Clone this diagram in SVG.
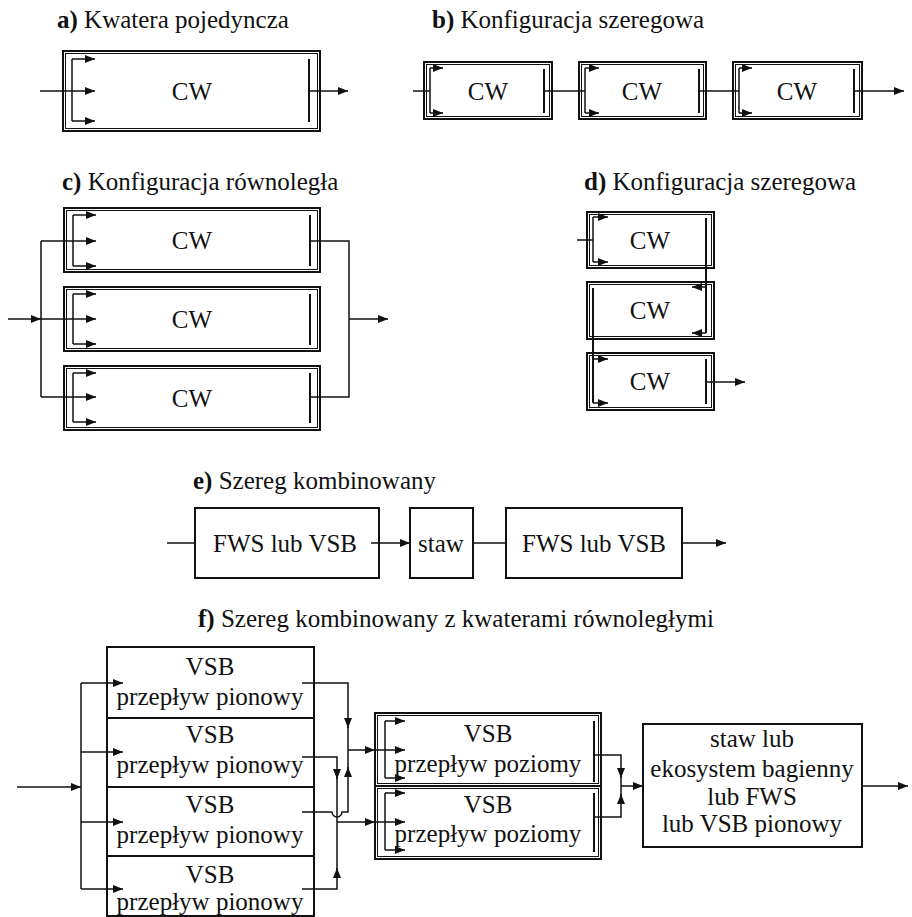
<svg xmlns="http://www.w3.org/2000/svg" width="912" height="917" viewBox="0 0 912 917" font-family="Liberation Serif, DejaVu Serif, serif">
<style>
.t{font-size:25px;fill:#111}
.m{text-anchor:middle}
.b{font-weight:bold}
.box{fill:none;stroke:#111;stroke-width:2}
.inn{fill:none;stroke:#111;stroke-width:1}
.ln{fill:none;stroke:#111;stroke-width:1.5}
.col{fill:none;stroke:#111;stroke-width:2}
.ar{marker-end:url(#ah)}
</style>
<defs>
<marker id="ah" viewBox="0 0 10 8" refX="10" refY="4" markerWidth="10" markerHeight="8" markerUnits="userSpaceOnUse" orient="auto"><path d="M0,0L10,4L0,8z" fill="#111"/></marker>
</defs>
<rect width="912" height="917" fill="#fff"/>

<g id="titles" class="t" font-family="Liberation Serif, serif">
<text x="57" y="28"><tspan class="b">a)</tspan> Kwatera pojedyncza</text>
<text x="432" y="28"><tspan class="b">b)</tspan> Konfiguracja szeregowa</text>
<text x="62" y="190"><tspan class="b">c)</tspan> Konfiguracja równoległa</text>
<text x="584" y="190"><tspan class="b">d)</tspan> Konfiguracja szeregowa</text>
<text x="193" y="489"><tspan class="b">e)</tspan> Szereg kombinowany</text>
<text x="198" y="627"><tspan class="b">f)</tspan> Szereg kombinowany z kwaterami równoległymi</text>
</g>

<!-- a -->
<g id="a-cw">
<rect class="box" x="63" y="51" width="257" height="80"/>
<rect class="inn" x="65.5" y="53.5" width="252" height="75"/>
<path class="ln" d="M72,59V121"/>
<path class="ln ar" d="M72,59H95"/><path class="ln ar" d="M72,91H95"/><path class="ln ar" d="M72,121H95"/>
<path class="col" d="M309,59V122"/>
<text class="t m" x="192" y="100">CW</text>
</g>

<!-- b -->
<g id="b-cw1">
<rect class="box" x="424" y="62" width="128" height="57"/>
<rect class="inn" x="426.5" y="64.5" width="123" height="52"/>
<path class="ln" d="M430,68V113"/>
<path class="ln ar" d="M430,68H443"/><path class="ln ar" d="M430,113H443"/>
<path class="col" d="M544,69V113"/>
<text class="t m" x="488" y="100">CW</text>
</g>
<g id="b-cw2">
<rect class="box" x="579" y="62" width="127" height="57"/>
<rect class="inn" x="581.5" y="64.5" width="122" height="52"/>
<path class="ln" d="M585,68V113"/>
<path class="ln ar" d="M585,68H599"/><path class="ln ar" d="M585,113H599"/>
<path class="col" d="M699,69V113"/>
<text class="t m" x="642" y="100">CW</text>
</g>
<g id="b-cw3">
<rect class="box" x="733" y="62" width="129" height="57"/>
<rect class="inn" x="735.5" y="64.5" width="124" height="52"/>
<path class="ln" d="M739,68V113"/>
<path class="ln ar" d="M739,68H752"/><path class="ln ar" d="M739,113H752"/>
<path class="col" d="M854,69V113"/>
<text class="t m" x="797" y="100">CW</text>
</g>

<!-- c -->
<g id="c-cw1">
<rect class="box" x="64" y="208" width="256" height="64"/>
<rect class="inn" x="66.5" y="210.5" width="251" height="59"/>
<path class="ln" d="M73,215V266"/>
<path class="ln ar" d="M73,215H96"/><path class="ln ar" d="M73,241H96"/><path class="ln ar" d="M73,266H96"/>
<path class="col" d="M310,215V266"/>
<text class="t m" x="192" y="249">CW</text>
</g>
<g id="c-cw2">
<rect class="box" x="64" y="287" width="256" height="64"/>
<rect class="inn" x="66.5" y="289.5" width="251" height="59"/>
<path class="ln" d="M73,294V344"/>
<path class="ln ar" d="M73,294H96"/><path class="ln ar" d="M73,319H96"/><path class="ln ar" d="M73,344H96"/>
<path class="col" d="M310,294V345"/>
<text class="t m" x="192" y="328">CW</text>
</g>
<g id="c-cw3">
<rect class="box" x="64" y="366" width="256" height="64"/>
<rect class="inn" x="66.5" y="368.5" width="251" height="59"/>
<path class="ln" d="M73,373V422"/>
<path class="ln ar" d="M73,373H96"/><path class="ln ar" d="M73,397H96"/><path class="ln ar" d="M73,422H96"/>
<path class="col" d="M310,373V423"/>
<text class="t m" x="192" y="407">CW</text>
</g>

<!-- d -->
<g id="d-cw1">
<rect class="box" x="587" y="212" width="127" height="56"/>
<rect class="inn" x="589.5" y="214.5" width="122" height="51"/>
<path class="ln" d="M593,217V262"/>
<path class="ln ar" d="M593,217H608"/><path class="ln ar" d="M593,262H608"/>
<text class="t m" x="650" y="249">CW</text>
</g>
<g id="d-cw2">
<rect class="box" x="587" y="282" width="127" height="57"/>
<rect class="inn" x="589.5" y="284.5" width="122" height="52"/>
<path class="ln ar" d="M706,287H692"/><path class="ln ar" d="M706,333H692"/>
<text class="t m" x="650" y="319">CW</text>
</g>
<g id="d-cw3">
<rect class="box" x="587" y="353" width="127" height="57"/>
<rect class="inn" x="589.5" y="355.5" width="122" height="52"/>
<path class="ln ar" d="M593,359H608"/><path class="ln ar" d="M593,403H608"/>
<path class="col" d="M706,359V404"/>
<text class="t m" x="650" y="390">CW</text>
</g>

<!-- e -->
<g id="e-fws1">
<rect class="box" x="195" y="508" width="184" height="70"/>
<text class="t m" x="285" y="552">FWS lub VSB</text>
</g>
<g id="e-staw">
<rect class="box" x="410" y="508" width="63" height="70"/>
<text class="t m" x="441" y="552">staw</text>
</g>
<g id="e-fws2">
<rect class="box" x="506" y="508" width="176" height="70"/>
<text class="t m" x="594" y="552">FWS lub VSB</text>
</g>

<!-- f -->
<g id="f-vsb1">
<rect class="box" x="107" y="647" width="207" height="71"/>
<text class="t m" x="210" y="675">VSB</text>
<text class="t m" x="210" y="705">przepływ pionowy</text>
</g>
<g id="f-vsb2">
<rect class="box" x="107" y="718" width="207" height="69"/>
<text class="t m" x="210" y="743">VSB</text>
<text class="t m" x="210" y="773">przepływ pionowy</text>
</g>
<g id="f-vsb3">
<rect class="box" x="107" y="787" width="207" height="69"/>
<text class="t m" x="210" y="813">VSB</text>
<text class="t m" x="210" y="843">przepływ pionowy</text>
</g>
<g id="f-vsb4">
<rect class="box" x="107" y="856" width="207" height="60"/>
<text class="t m" x="210" y="883">VSB</text>
<text class="t m" x="210" y="910">przepływ pionowy</text>
</g>
<g id="f-hf1">
<rect class="box" x="375" y="713" width="226" height="73"/>
<rect class="inn" x="377.5" y="715.5" width="221" height="68"/>
<path class="ln" d="M385,721V778"/>
<path class="ln ar" d="M385,721H405"/><path class="ln ar" d="M385,778H405"/>
<path class="col" d="M594,721V782"/>
<text class="t m" x="488" y="742">VSB</text>
<text class="t m" x="488" y="772">przepływ poziomy</text>
</g>
<g id="f-hf2">
<rect class="box" x="375" y="786" width="226" height="73"/>
<rect class="inn" x="377.5" y="788.5" width="221" height="68"/>
<path class="ln" d="M385,793V850"/>
<path class="ln ar" d="M385,793H405"/><path class="ln ar" d="M385,850H405"/>
<path class="col" d="M594,793V852"/>
<text class="t m" x="488" y="813">VSB</text>
<text class="t m" x="488" y="842">przepływ poziomy</text>
</g>
<g id="f-final">
<rect class="box" x="643" y="724" width="219" height="123"/>
<text class="t m" x="752" y="747">staw lub</text>
<text class="t m" x="752" y="777">ekosystem bagienny</text>
<text class="t m" x="752" y="805">lub FWS</text>
<text class="t m" x="752" y="832">lub VSB pionowy</text>
</g>

<g id="connectors">
<path class="ln" d="M40,91H72"/>
<path class="ln ar" d="M309,91H348"/>
<path class="ln" d="M413,91H430"/>
<path class="ln" d="M544,91H585"/>
<path class="ln" d="M699,91H739"/>
<path class="ln ar" d="M854,91H904"/>
<path class="ln ar" d="M8,319H41"/>
<path class="ln" d="M41,241V397M41,241H73M41,319H73M41,397H73"/>
<path class="ln" d="M310,241H349V397H310"/>
<path class="ln ar" d="M349,319H388"/>
<path class="ln" d="M577,240H593"/>
<path class="col" d="M706,218V333"/>
<path class="col" d="M593,288V403"/>
<path class="ln ar" d="M706,382H745"/>
<path class="ln" d="M167,543H195"/>
<path class="ln ar" d="M371,543H410"/>
<path class="ln" d="M473,543H506"/>
<path class="ln ar" d="M682,543H726"/>
<path class="ln ar" d="M17,787H81"/>
<path class="ln" d="M81,683V889"/>
<path class="ln ar" d="M81,683H123"/><path class="ln ar" d="M81,752H123"/><path class="ln ar" d="M81,822H123"/><path class="ln ar" d="M81,889H123"/>
<path class="ln ar" d="M302,683H348V728"/><path class="ln" d="M348,726V750"/>
<path class="ln ar" d="M302,757H337V779"/><path class="ln" d="M337,777V822"/>
<path class="ln ar" d="M302,812H332A5,5 0 0 0 342,812H348V767"/><path class="ln" d="M348,769V750"/>
<path class="ln ar" d="M302,889H337V868"/><path class="ln" d="M337,870V822"/>
<path class="ln ar" d="M348,750H375"/><path class="ln ar" d="M375,750H405"/>
<path class="ln ar" d="M337,822H375"/><path class="ln ar" d="M375,822H405"/>
<path class="ln ar" d="M594,755H621V778"/><path class="ln" d="M621,776V786"/>
<path class="ln ar" d="M594,817H621V794"/><path class="ln" d="M621,796V786"/>
<path class="ln ar" d="M621,786H643"/>
<path class="ln ar" d="M862,786H908"/>
</g>
</svg>
